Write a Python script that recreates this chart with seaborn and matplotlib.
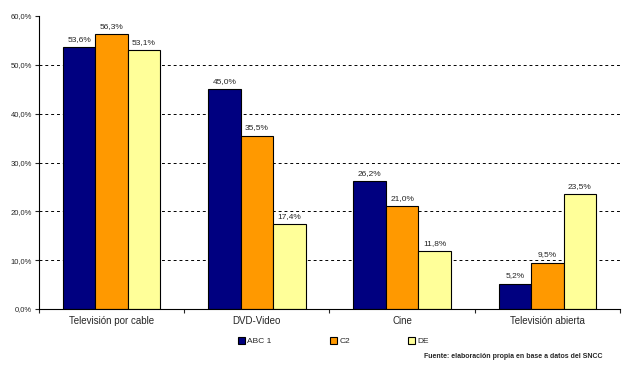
import pandas as pd
import matplotlib.pyplot as plt
import seaborn as sns
from matplotlib.ticker import FuncFormatter

# Datos
categorias = ['Televisión por cable', 'DVD-Video', 'Cine', 'Televisión abierta']
grupos = ['ABC 1', 'C2', 'DE']
abc1 = [53.6, 45.0, 26.2, 5.2]
c2 = [56.3, 35.5, 21.0, 9.5]
de = [53.1, 17.4, 11.8, 23.5]
colores = ['#000080', '#FF9900', '#FFFF99']

df = pd.DataFrame({'Categoria': categorias * 3,
                   'Grupo': [g for g in grupos for _ in categorias],
                   'Valor': abc1 + c2 + de})

sns.set_theme(style='white')
plt.rcParams['font.family'] = ['Liberation Sans', 'DejaVu Sans']

fig = plt.figure(figsize=(6.24, 3.65), dpi=100)
ax = fig.add_axes([0.0625, 0.1534, 0.931, 0.8027])

sns.barplot(data=df, x='Categoria', y='Valor', hue='Grupo', palette=colores,
            saturation=1, width=0.67, edgecolor='black', linewidth=0.8,
            ax=ax, legend=True)

for cont in ax.containers:
    ax.bar_label(cont, labels=[f'{v:.1f}%'.replace('.', ',') for v in cont.datavalues],
                 fontsize=6, padding=3)

ax.set_ylim(0, 60)
ax.set_xlim(-0.5, 3.5)
ax.set_yticks(range(0, 61, 10))
ax.yaxis.set_major_formatter(FuncFormatter(lambda v, p: f'{v:.1f}%'.replace('.', ',')))
# lineas de grilla punteadas (sin la de 60%)
for y in range(10, 51, 10):
    ax.axhline(y, color='black', linestyle=(0, (3, 3)), linewidth=0.7, zorder=0)
ax.tick_params(axis='y', labelsize=5.5, length=3, width=0.8, left=True, pad=2)
ax.tick_params(axis='x', labelsize=7, length=0, pad=5)
# marcas entre categorias
ax.set_xticks([-0.5, 0.5, 1.5, 2.5, 3.5], minor=True)
ax.tick_params(axis='x', which='minor', length=3, width=0.8, bottom=True)
ax.set_xlabel('')
ax.set_ylabel('')
for s in ['top', 'right']:
    ax.spines[s].set_visible(False)
for s in ['left', 'bottom']:
    ax.spines[s].set_color('black')
    ax.spines[s].set_linewidth(0.8)

ax.legend(loc='upper left', bbox_to_anchor=(0.337, -0.085), ncol=3, frameon=False,
          fontsize=6, handlelength=0.8, handleheight=0.8, handletextpad=0.3,
          columnspacing=7, borderaxespad=0)

fig.text(0.965, 0.015, 'Fuente: elaboración propia en base a datos del SNCC',
         ha='right', va='bottom', fontsize=5, fontweight='bold')

fig.savefig('out.png', dpi=100)
